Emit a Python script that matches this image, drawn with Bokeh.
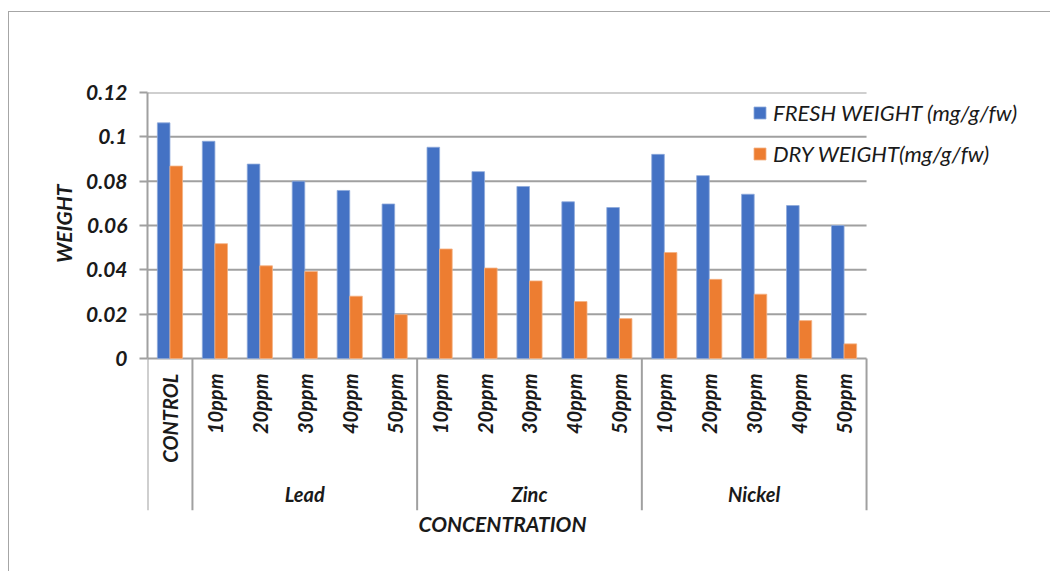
import numpy as np
from bokeh.plotting import figure
from bokeh.models import (Range1d, FixedTicker, ColumnDataSource, Legend,
                          LegendItem, Title)
from bokeh.core.properties import value
from bokeh.embed import file_html
from bokeh.resources import INLINE

# ---------------- data ----------------
control_label = "CONTROL"
metals = ["Lead", "Zinc", "Nickel"]
levels = ["10ppm", "20ppm", "30ppm", "40ppm", "50ppm"]
tick_labels = [control_label] + levels * len(metals)

fresh_weight = [0.1063, 0.098, 0.0877, 0.080, 0.0758, 0.0697,
                0.0953, 0.0843, 0.0776, 0.0707, 0.0681,
                0.0921, 0.0825, 0.0741, 0.0690, 0.0600]
dry_weight = [0.0868, 0.0518, 0.0418, 0.0393, 0.0281, 0.0198,
              0.0494, 0.0408, 0.0350, 0.0257, 0.0180,
              0.0478, 0.0357, 0.0290, 0.0171, 0.0066]
y_ticks = [0, 0.02, 0.04, 0.06, 0.08, 0.1, 0.12]
y_tick_text = ["0", "0.02", "0.04", "0.06", "0.08", "0.1", "0.12"]
x_title = "CONCENTRATION"
y_title = "WEIGHT"

# ---------------- style ----------------
FONT = "Lato"
BLUE = "#4472C4"
ORANGE = "#ED7D31"
GRID = "#A0A0A0"
TXT = "#1a1a1a"

W, H = 1042, 560
frame_left, frame_top = 138, 80
frame_h = 418
cat_px = 44.94          # width of one category in pixels
zero_from_top = 266     # px from frame top down to the zero line

n = len(tick_labels)
frame_w = W - frame_left
y_top = y_ticks[-1]
units_per_px = y_top / zero_from_top
y_min = -(frame_h - zero_from_top) * units_per_px
x_end = frame_w / cat_px

p = figure(width=W, height=H, output_backend="svg", toolbar_location=None,
           x_range=Range1d(0, x_end), y_range=Range1d(y_min, y_top),
           min_border_left=frame_left, min_border_top=frame_top,
           min_border_right=0,
           min_border_bottom=H - frame_top - frame_h)
p.styles = {"border-left": "1px solid #A6A6A6", "border-top": "1px solid #A6A6A6",
            "margin-top": "11px", "margin-left": "8px"}
p.outline_line_color = None
p.background_fill_color = "white"
p.border_fill_color = "white"

# horizontal grid lines (only across the category area)
p.xgrid.visible = False
p.ygrid.visible = False
p.segment(x0=0, x1=n, y0=y_ticks, y1=y_ticks, line_color=GRID, line_width=2)

xs = np.arange(n) + 0.5
bw = 0.28
src = ColumnDataSource(dict(xf=xs - bw / 2, xd=xs + bw / 2,
                            fresh=fresh_weight, dry=dry_weight))
r_f = p.vbar(x="xf", top="fresh", bottom=0, width=bw, source=src,
             fill_color=BLUE, line_color="#8EA9DB", line_width=0.8)
r_d = p.vbar(x="xd", top="dry", bottom=0, width=bw, source=src,
             fill_color=ORANGE, line_color="#F4B183", line_width=0.8)

# y axis
p.yaxis.bounds = (0, y_top)
p.yaxis.ticker = FixedTicker(ticks=y_ticks)
p.yaxis.major_label_overrides = {t: s for t, s in zip(y_ticks, y_tick_text)}
p.yaxis.minor_tick_line_color = None
p.yaxis.major_tick_in = 0
p.yaxis.major_tick_out = 8
p.yaxis.major_tick_line_color = GRID
p.yaxis.major_tick_line_width = 2
p.yaxis.axis_line_color = GRID
p.yaxis.axis_line_width = 2
p.yaxis.major_label_standoff = 12
p.yaxis.major_label_text_font = FONT
p.yaxis.major_label_text_font_style = "bold italic"
p.yaxis.major_label_text_font_size = "21px"
p.yaxis.major_label_text_color = TXT

p.xaxis.visible = False

# axis titles placed as side titles so they can be offset
p.add_layout(Title(text=y_title, align="right", offset=92, standoff=13,
                   text_font=FONT, text_font_style="bold italic",
                   text_font_size="21px", text_color=TXT), "left")
p.add_layout(Title(text=x_title, align="left", offset=271, standoff=1,
                   vertical_align="top",
                   text_font=FONT, text_font_style="bold italic",
                   text_font_size="21px", text_color=TXT), "below")

# category separators (first one continues the y axis line down)
sizes = [1] + [len(levels)] * len(metals)
bounds = np.concatenate([[0], np.cumsum(sizes)])
p.segment(x0=bounds, x1=bounds, y0=y_min, y1=0, line_color=GRID, line_width=2)

# category tick labels (rotated)
p.text(x=xs, y=-15 * units_per_px, text=tick_labels, angle=np.pi / 2,
       text_align="right", text_baseline="middle",
       text_font=value(FONT), text_font_style="bold italic",
       text_font_size="20px", text_color=TXT)

# group labels
centers = ((bounds[:-1] + bounds[1:]) / 2)[1:]
p.text(x=centers, y=-(493 - 358) * units_per_px, text=metals,
       text_align="center", text_baseline="middle",
       text_font=value(FONT), text_font_style="bold italic",
       text_font_size="20px", text_color=TXT)

legend = Legend(items=[LegendItem(label="FRESH WEIGHT (mg/g/fw)", renderers=[r_f]),
                       LegendItem(label="DRY WEIGHT(mg/g/fw)", renderers=[r_d])],
                location=(605, 343), padding=0, margin=0, spacing=14,
                glyph_width=15, glyph_height=15, label_height=20,
                label_standoff=6, border_line_color=None,
                background_fill_alpha=0,
                label_text_font=FONT, label_text_font_style="italic",
                label_text_font_size="22px", label_text_color=TXT)
p.add_layout(legend, "center")

open("out.html", "w").write(file_html(p, INLINE))
